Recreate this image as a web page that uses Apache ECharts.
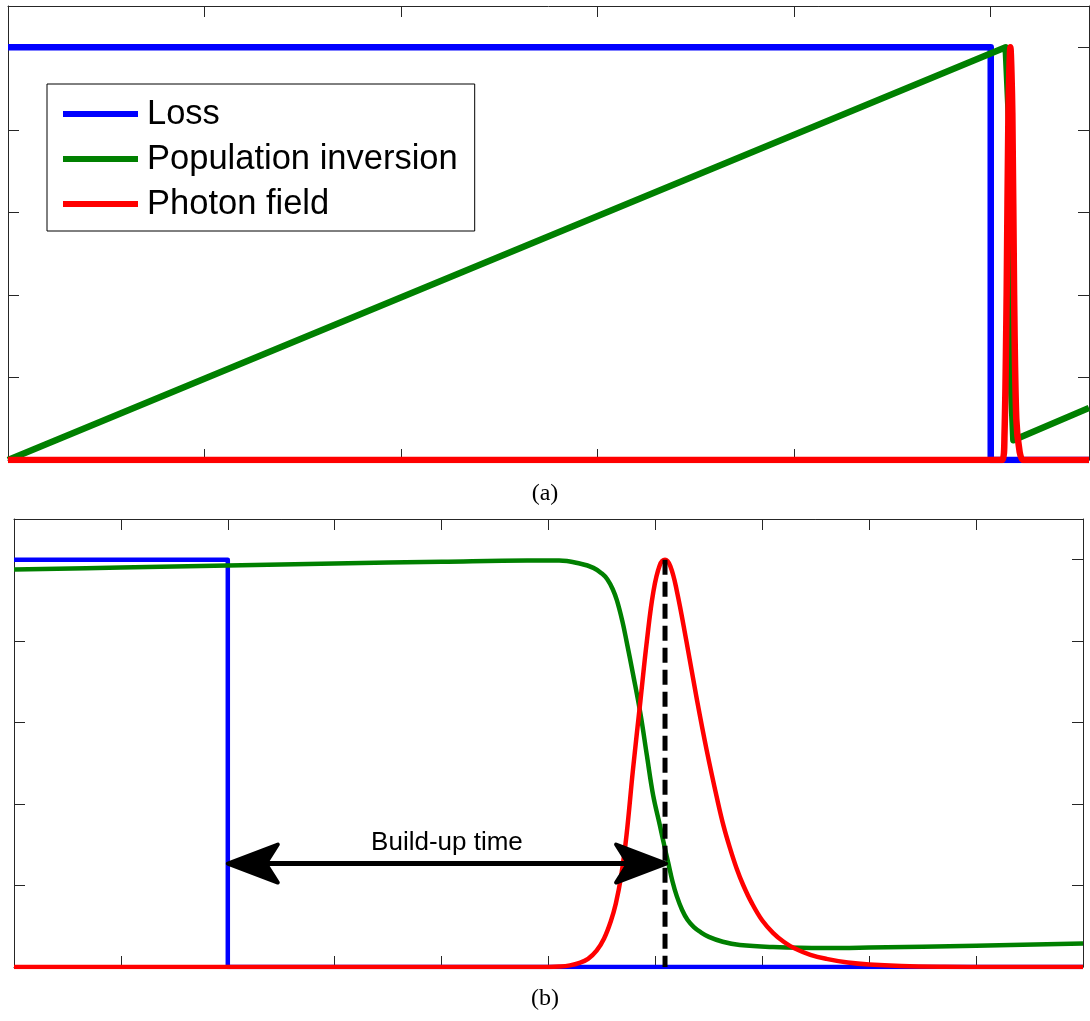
<!DOCTYPE html>
<html>
<head>
<meta charset="utf-8">
<script src="https://cdn.jsdelivr.net/npm/echarts@6/dist/echarts.min.js"></script>
<style>
  html, body { margin: 0; padding: 0; background: #fff; }
  #chart { width: 1090px; height: 1021px; }
</style>
</head>
<body>
<div id="chart"></div>
<script>
// Series names shared by both panels
const seriesNames = ['Loss', 'Population inversion', 'Photon field'];

// Panel (a): a full Q-switch cycle, [time, amplitude]
const lossA = [[0, 5], [5.0, 5], [5.0, 0], [5.5, 0]];
const inversionA = [[0, 0], [5.076, 5.0], [5.095, 4.0], [5.1, 2.0], [5.105, 0.8], [5.115, 0.24], [5.5, 0.63]];
const photonA = [[0, 0], [5.058, 0], [5.07, 0.3], [5.081, 2.0], [5.09, 4.2], [5.1, 5.0], [5.11, 4.2],
                 [5.119, 2.0], [5.13, 0.5], [5.147, 0.1], [5.167, 0], [5.5, 0]];

// Panel (b): close-up around the switching event
const lossB = [[0, 5], [2.0, 5], [2.0, 0], [10, 0]];
const inversionB = [[0, 4.88], [1, 4.905], [2, 4.93], [3, 4.955], [4, 4.975], [4.8, 4.99], [5.1, 4.99],
  [5.3, 4.95], [5.42, 4.9], [5.5, 4.83], [5.55, 4.76], [5.6, 4.64], [5.64, 4.5], [5.69, 4.25], [5.73, 4.0],
  [5.79, 3.6], [5.86, 3.11], [5.92, 2.6], [5.98, 2.1], [6.04, 1.75], [6.09, 1.45], [6.12, 1.28],
  [6.16, 1.05], [6.2, 0.87], [6.25, 0.7], [6.3, 0.58], [6.36, 0.49], [6.42, 0.43], [6.5, 0.37],
  [6.63, 0.31], [6.79, 0.27], [7.1, 0.245], [7.57, 0.232], [8, 0.238], [9, 0.26], [10, 0.29]];
const photonB = [[0, 0], [5.0, 0], [5.1, 0.005], [5.2, 0.02], [5.29, 0.05], [5.37, 0.1], [5.45, 0.2],
  [5.52, 0.35], [5.58, 0.55], [5.63, 0.78], [5.68, 1.12], [5.73, 1.62], [5.79, 2.42], [5.86, 3.27],
  [5.92, 4.0], [5.98, 4.6], [6.04, 4.93], [6.09, 5.0], [6.14, 4.92], [6.2, 4.62], [6.29, 4.0],
  [6.39, 3.27], [6.48, 2.66], [6.58, 2.05], [6.64, 1.72], [6.7, 1.45], [6.76, 1.21], [6.82, 1.01],
  [6.9, 0.79], [7.0, 0.57], [7.1, 0.42], [7.2, 0.31], [7.3, 0.23], [7.45, 0.15], [7.6, 0.1],
  [7.8, 0.055], [8.0, 0.03], [8.3, 0.012], [8.7, 0.003], [9.2, 0], [10, 0]];

// Peak marker and build-up interval in panel (b)
const peakMarker = [[6.09, 5.0], [6.09, 0]];
const buildUp = [[2.0, 6.1, 1.27]];          // [start, end, level]
const buildUpLabel = 'Build-up time';

// Axis extents (ticks every unit, no labels)
const rangeA = { x: 5.5, y: 5.5 };
const rangeB = { x: 10, y: 5.5 };
const tickStep = 1;

const colors = { loss: '#0000ff', inversion: '#008000', photon: '#ff0000' };
const frameColor = '#262626';

function frameAxis(gridIndex, position, max) {
  return {
    type: 'value', gridIndex, position, min: 0, max, interval: tickStep,
    axisLine: { show: true, onZero: false, lineStyle: { color: frameColor, width: 1 } },
    axisTick: { show: true, inside: true, length: 11, lineStyle: { color: frameColor, width: 1 } },
    axisLabel: { show: false },
    splitLine: { show: false }
  };
}

function curve(name, data, color, width, xi, yi, smooth) {
  return {
    type: 'line', name, data, xAxisIndex: xi, yAxisIndex: yi,
    showSymbol: false, symbol: 'none', smooth: smooth || false, animation: false,
    lineStyle: { color, width, join: 'round' },
    itemStyle: { color }
  };
}

const chart = echarts.init(document.getElementById('chart'), null, { renderer: 'canvas' });

chart.setOption({
  animation: false,
  backgroundColor: '#fff',
  grid: [
    { left: 8, top: 6, width: 1081, height: 454 },
    { left: 14, top: 519, width: 1069, height: 448 }
  ],
  xAxis: [
    frameAxis(0, 'bottom', rangeA.x), frameAxis(0, 'top', rangeA.x),
    frameAxis(1, 'bottom', rangeB.x), frameAxis(1, 'top', rangeB.x)
  ],
  yAxis: [
    frameAxis(0, 'left', rangeA.y), frameAxis(0, 'right', rangeA.y),
    frameAxis(1, 'left', rangeB.y), frameAxis(1, 'right', rangeB.y)
  ],
  legend: {
    left: 47, top: 84, orient: 'vertical',
    data: seriesNames,
    icon: 'rect', itemWidth: 75, itemHeight: 6, itemGap: 5,
    padding: [10, 17, 7, 16],
    borderColor: '#000', borderWidth: 1, backgroundColor: '#fff',
    selectedMode: false,
    textStyle: { fontFamily: 'Liberation Sans', fontSize: 34.5, color: '#000', lineHeight: 40, padding: [0, 0, 0, 4] }
  },
  graphic: [
    { type: 'text', left: 'center', top: 482, style: { text: '(a)', font: '24px "Liberation Serif"', fill: '#000' } },
    { type: 'text', left: 'center', top: 987, style: { text: '(b)', font: '24px "Liberation Serif"', fill: '#000' } }
  ],
  series: [
    curve(seriesNames[0], lossA, colors.loss, 6.5, 0, 0),
    curve(seriesNames[1], inversionA, colors.inversion, 6.5, 0, 0),
    curve(seriesNames[2], photonA, colors.photon, 6.5, 0, 0, 0.3),
    curve(seriesNames[0], lossB, colors.loss, 4.5, 2, 2),
    curve(seriesNames[1], inversionB, colors.inversion, 4.5, 2, 2, 0.4),
    curve(seriesNames[2], photonB, colors.photon, 4.5, 2, 2, 0.4),
    {
      type: 'line', name: 'peak', data: peakMarker, xAxisIndex: 2, yAxisIndex: 2,
      showSymbol: false, symbol: 'none', z: 4,
      lineStyle: { color: '#000', width: 5, type: [15, 7] }
    },
    {
      type: 'custom', name: 'build-up', data: buildUp, xAxisIndex: 2, yAxisIndex: 2, z: 5,
      renderItem(params, api) {
        const a = api.coord([api.value(0), api.value(2)]);
        const b = api.coord([api.value(1), api.value(2)]);
        const L = 50, W = 19, N = 38;
        const y = a[1];
        return {
          type: 'group',
          children: [
            { type: 'line', shape: { x1: a[0] + N, y1: y, x2: b[0] - N, y2: y },
              style: { stroke: '#000', lineWidth: 5 } },
            { type: 'polygon',
              shape: { points: [[a[0], y], [a[0] + L, y - W], [a[0] + N, y], [a[0] + L, y + W]] },
              style: { fill: '#000', stroke: '#000', lineWidth: 4, lineJoin: 'round' } },
            { type: 'polygon',
              shape: { points: [[b[0], y], [b[0] - L, y - W], [b[0] - N, y], [b[0] - L, y + W]] },
              style: { fill: '#000', stroke: '#000', lineWidth: 4, lineJoin: 'round' } },
            { type: 'text', x: (a[0] + b[0]) / 2, y: y - 21,
              style: { text: buildUpLabel, fill: '#000', font: '26px "Liberation Sans"',
                       align: 'center', verticalAlign: 'middle' } }
          ]
        };
      }
    }
  ]
});
</script>
</body>
</html>
